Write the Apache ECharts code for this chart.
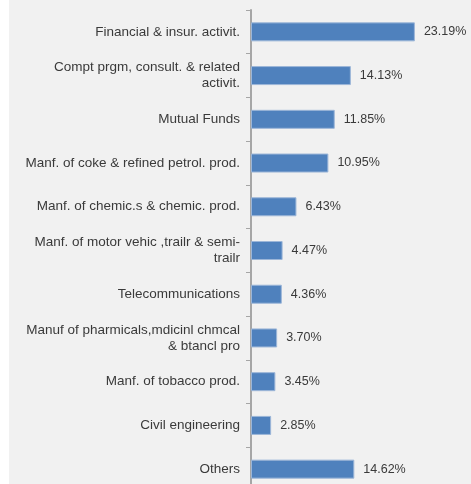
<!DOCTYPE html>
<html>
<head>
<meta charset="utf-8">
<script src="https://cdn.jsdelivr.net/npm/echarts@6/dist/echarts.min.js"></script>
<style>
  html, body { margin: 0; padding: 0; background: #ffffff; overflow: hidden; }
  /* plot runs slightly past the lower edge of the window */
  #chart { width: 471px; height: 491px; }
</style>
</head>
<body>
<div id="chart"></div>
<script>
// Sector shares, listed top to bottom
const categories = [
  'Financial & insur. activit.',
  'Compt prgm, consult. & related\nactivit.',
  'Mutual Funds',
  'Manf. of coke & refined petrol. prod.',
  'Manf. of chemic.s & chemic. prod.',
  'Manf. of motor vehic ,trailr & semi-\ntrailr',
  'Telecommunications',
  'Manuf of pharmicals,mdicinl chmcal\n& btancl pro',
  'Manf. of tobacco prod.',
  'Civil engineering',
  'Others'
];
const shares = [23.19, 14.13, 11.85, 10.95, 6.43, 4.47, 4.36, 3.70, 3.45, 2.85, 14.62];

const fontFamily = '"Liberation Sans", Arial, sans-serif';
const chart = echarts.init(document.getElementById('chart'), null, { renderer: 'canvas' });

chart.setOption({
  animation: false,
  graphic: [{
    type: 'rect',
    left: 9, top: 0,
    shape: { width: 462, height: 491 },
    style: { fill: '#f1f1f1' },
    z: -10
  }],
  grid: { left: 251, top: 10, right: 8, bottom: 0, containLabel: false },
  xAxis: {
    type: 'value',
    min: 0, max: 30,
    show: false
  },
  yAxis: {
    type: 'category',
    inverse: true,
    data: categories,
    axisLine: { show: true, lineStyle: { color: '#a6a6a6', width: 2 } },
    axisTick: { show: true, length: 5, lineStyle: { color: '#a6a6a6', width: 1 } },
    axisLabel: {
      color: '#3a3a3a',
      fontFamily: fontFamily,
      fontSize: 13.5,
      lineHeight: 16,
      align: 'right',
      margin: 11
    },
    splitLine: { show: false }
  },
  series: [{
    type: 'bar',
    data: shares,
    barWidth: 19,
    itemStyle: { color: '#4f81bd', borderColor: '#9cb6d8', borderWidth: 1 },
    label: {
      show: true,
      position: 'right',
      distance: 9,
      color: '#3a3a3a',
      fontFamily: fontFamily,
      fontSize: 12.5,
      formatter: p => p.value.toFixed(2) + '%'
    }
  }]
});
</script>
</body>
</html>
